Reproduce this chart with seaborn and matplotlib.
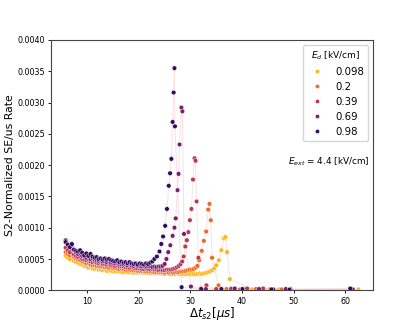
import numpy as np
import pandas as pd
import seaborn as sns
import matplotlib.pyplot as plt
from matplotlib.ticker import FormatStrFormatter

# drift time bins [us] used by the flat part of every run
t_grid = [5.8, 6.2, 6.6, 7.0, 7.4, 7.8, 8.2, 8.6, 9.0, 9.4, 9.8, 10.2, 10.6, 11.0,
          11.4, 11.8, 12.2, 12.6, 13.0, 13.4, 13.8, 14.2, 14.6, 15.0, 15.4, 15.8,
          16.2, 16.6, 17.0, 17.4, 17.8, 18.2, 18.6, 19.0, 19.4, 19.8, 20.2, 20.6,
          21.0, 21.4, 21.8, 22.2, 22.6, 23.0, 23.4, 23.8, 24.2, 24.6, 25.0, 25.4,
          25.8, 26.2, 26.6, 27.0, 27.4, 27.8, 28.2, 28.6, 29.0, 29.4, 29.8, 30.2,
          30.6, 31.0, 31.4, 31.8, 32.2, 32.6, 33.0, 33.4, 33.8, 34.2, 34.6, 35.0]

# rates, units of 1e-4 SE/us
flat_098 = [5.5, 5.2, 5.0, 5.7, 4.7, 4.5, 4.4, 4.2, 4.1, 3.9, 3.8, 3.6, 3.7, 3.5, 3.4,
            3.5, 3.3, 3.3, 3.2, 3.3, 3.1, 3.2, 3.1, 3.1, 3.0, 3.1, 3.0, 3.0, 2.9, 3.0,
            2.9, 2.9, 2.9, 2.8, 2.9, 2.8, 2.9, 2.8, 2.8, 2.8, 2.8, 2.7, 2.8, 2.7, 2.7,
            2.7, 2.7, 2.7, 2.6, 2.7, 2.7, 2.6, 2.6, 2.6, 2.7, 2.6, 2.6, 2.6, 2.6, 2.6,
            2.6, 2.6, 2.6, 2.6, 2.6, 2.7, 2.6, 2.7, 2.8, 2.9, 3.0, 3.2, 3.5, 4.0]
flat_02 = [6.1, 5.8, 5.6, 5.9, 5.3, 5.1, 4.9, 4.8, 4.6, 4.5, 4.3, 4.4, 4.1, 4.0, 4.0,
           3.9, 3.9, 3.8, 3.8, 3.7, 3.7, 3.6, 3.7, 3.6, 3.5, 3.5, 3.4, 3.5, 3.4, 3.3,
           3.3, 3.3, 3.2, 3.2, 3.2, 3.1, 3.1, 3.1, 3.1, 3.0, 3.0, 3.0, 3.0, 2.9, 2.9,
           2.9, 2.9, 2.9, 2.8, 2.9, 2.8, 2.9, 2.8, 2.9, 2.9, 2.9, 3.0, 3.0, 3.1, 3.2,
           3.3, 3.3, 3.4, 3.6]
flat_039 = [6.8, 6.4, 6.1, 6.5, 5.7, 5.5, 5.3, 5.4, 5.0, 4.9, 4.8, 4.9, 4.6, 4.5, 4.6,
            4.4, 4.3, 4.4, 4.2, 4.2, 4.1, 4.2, 4.0, 4.0, 3.9, 4.0, 3.8, 3.8, 3.8, 3.7,
            3.7, 3.6, 3.7, 3.6, 3.5, 3.5, 3.5, 3.4, 3.4, 3.5, 3.4, 3.3, 3.4, 3.3, 3.3,
            3.2, 3.3, 3.2, 3.2, 3.3, 3.3, 3.3, 3.4, 3.5, 3.7]
flat_069 = [8.0, 7.4, 7.0, 7.2, 6.4, 6.0, 5.8, 5.9, 5.5, 5.4, 5.2, 5.4, 5.0, 5.1, 4.9,
            4.8, 4.7, 4.8, 4.6, 4.6, 4.5, 4.6, 4.4, 4.4, 4.3, 4.4, 4.2, 4.2, 4.1, 4.2,
            4.0, 4.1, 4.0, 3.9, 4.0, 3.9, 3.9, 3.8, 3.9, 3.8, 3.8, 3.8, 3.7, 3.8, 3.7,
            3.8, 3.8, 3.9]
flat_098b = [7.7, 7.3, 6.9, 7.4, 6.5, 6.3, 6.2, 6.4, 6.0, 5.6, 5.9, 5.5, 5.8, 5.4, 5.2,
             5.3, 5.0, 5.1, 4.9, 5.1, 4.9, 5.0, 4.8, 4.7, 4.6, 4.8, 4.5, 4.6, 4.4, 4.5,
             4.3, 4.5, 4.3, 4.2, 4.3, 4.1, 4.3, 4.2, 4.1, 4.3, 4.2, 4.4, 4.6, 5.0]

# peak region + the sparse near-zero bins after the drop
peak_t_098 = [35.5, 36.0, 36.5, 36.8, 37.1, 37.65, 42.0, 43.6, 45.4, 47.2, 62.6]
peak_v_098 = [4.8, 6.4, 8.3, 8.5, 6.1, 1.8, 0.15, 0.15, 0.2, 0.15, 0.15]
peak_t_02 = [31.35, 31.7, 32.2, 32.6, 33.05, 33.45, 33.7, 33.95, 34.2, 35.45, 37.0, 39.6, 42.7, 47.7]
peak_v_02 = [3.9, 4.8, 6.3, 7.9, 9.4, 12.9, 13.8, 11.2, 5.2, 0.8, 0.2, 0.15, 0.2, 0.15]
peak_t_039 = [27.75, 28.1, 28.4, 28.7, 29.0, 29.3, 29.6, 29.9, 30.2, 30.5, 30.8, 31.0, 31.2,
              31.55, 32.0, 33.1, 35.0, 37.9, 41.0, 44.1, 49.4]
peak_v_039 = [3.9, 4.2, 4.6, 5.4, 7.0, 8.0, 9.3, 11.2, 13.0, 17.7, 21.1, 20.7, 14.2,
              5.2, 0.3, 0.8, 0.2, 0.25, 0.3, 0.3, 0.2]
peak_t_069 = [25.0, 25.35, 25.7, 26.1, 26.55, 26.9, 27.15, 27.5, 27.7, 27.9, 28.25, 28.45,
              28.75, 30.1, 33.0, 38.6, 43.3, 46.1, 48.5, 61.5]
peak_v_069 = [4.2, 5.0, 6.1, 7.2, 8.7, 10.0, 11.5, 16.0, 18.6, 23.3, 29.2, 28.6,
              9.0, 0.6, 0.2, 0.3, 0.2, 0.15, 0.2, 0.15]
peak_t_098b = [23.5, 24.0, 24.35, 24.7, 25.1, 25.45, 25.8, 26.05, 26.3, 26.55, 26.75, 26.9,
               27.0, 28.3, 32.1, 36.0, 40.1, 45.7, 49.2, 61.0]
peak_v_098b = [5.4, 6.2, 7.4, 8.6, 10.3, 13.0, 16.7, 18.7, 21.0, 26.9, 31.6, 35.5,
               26.2, 0.5, 0.2, 0.2, 0.2, 0.15, 0.1, 0.3]

fields = ["0.098", "0.2", "0.39", "0.69", "0.98"]
runs = [(flat_098, peak_t_098, peak_v_098), (flat_02, peak_t_02, peak_v_02),
        (flat_039, peak_t_039, peak_v_039), (flat_069, peak_t_069, peak_v_069),
        (flat_098b, peak_t_098b, peak_v_098b)]

frames = []
for ed, (flat, pt, pv) in zip(fields, runs):
    t = list(t_grid[:len(flat)]) + pt
    v = np.array(flat + pv) * 1e-4
    frames.append(pd.DataFrame({"t": t, "rate": v, "Ed": ed}))
df = pd.concat(frames, ignore_index=True)

fig = plt.figure(figsize=(4.15, 3.32), dpi=100)
ax = fig.add_axes([0.123, 0.1256, 0.776, 0.754])

sns.lineplot(data=df, x="t", y="rate", units="Ed", estimator=None, sort=True,
             color="#f0b4b4", lw=0.7, alpha=0.4, legend=False, ax=ax)
pal = sns.color_palette("inferno_r", 5)
sns.scatterplot(data=df, x="t", y="rate", hue="Ed", hue_order=fields, palette=pal,
                s=11, edgecolor="white", linewidth=0.3, ax=ax, zorder=3)

ax.set_ylim(0, 0.004)
ax.set_yticks(np.arange(0, 0.00401, 0.0005))
ax.yaxis.set_major_formatter(FormatStrFormatter("%.4f"))
ax.set_xticks([10, 20, 30, 40, 50, 60])
ax.tick_params(labelsize=5.8, length=2.5, width=0.6, pad=2)
for sp in ax.spines.values():
    sp.set_linewidth(0.8)
    sp.set_color("#444444")

ax.set_xlabel(r"$\Delta t_{s2} [\mu s]$", fontsize=8.5)
ax.xaxis.set_label_coords(0.5, -0.06)
ax.set_ylabel("S2-Normalized SE/us Rate", fontsize=7.8)
ax.yaxis.set_label_coords(-0.112, 0.5)

h, l = ax.get_legend_handles_labels()
leg = ax.legend(h, l, title="$E_d$ [kV/cm]", loc="upper right", fontsize=7.3,
                title_fontsize=6.5, markerscale=0.9)

ax.text(0.99, 0.513, "$E_{ext}$ = 4.4 [kV/cm]", transform=ax.transAxes,
        ha="right", va="center", fontsize=6.4)

fig.savefig("out.png", dpi=100)
